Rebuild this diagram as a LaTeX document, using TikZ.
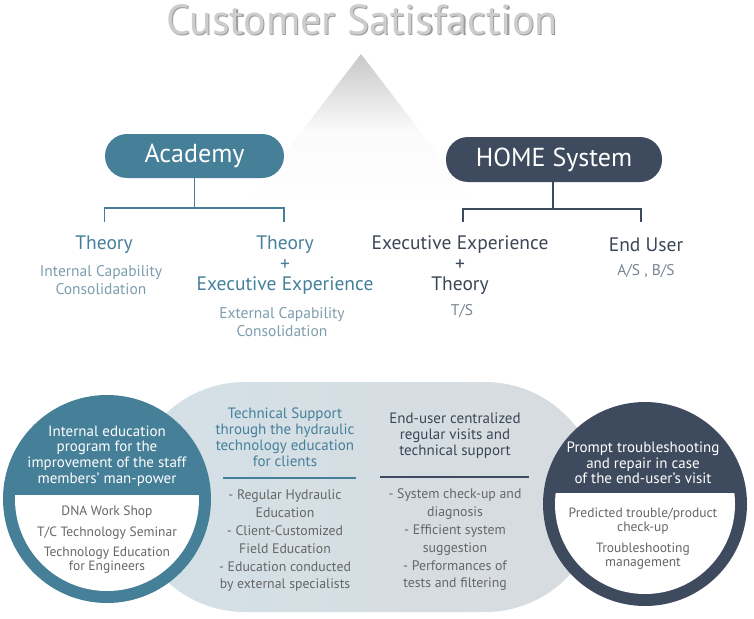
\documentclass[tikz,border=0pt]{standalone}
\usepackage{fontspec}
\setmainfont{PT Sans}
\definecolor{tealc}{HTML}{457F98}
\definecolor{darkc}{HTML}{3E4A5D}
\definecolor{tealtxt}{HTML}{45809A}
\definecolor{tealsub}{HTML}{7C9DAD}
\definecolor{darktxt}{HTML}{3B4657}
\definecolor{darksub}{HTML}{7A8393}
\definecolor{graytxt}{HTML}{666666}
\definecolor{titlefill}{HTML}{CDCDCD}
\definecolor{titleshade}{HTML}{9C9C9C}
\definecolor{blobL}{HTML}{D3E1E7}
\definecolor{blobR}{HTML}{D8DBDF}
\definecolor{tritop}{HTML}{C8C8C8}
\tikzset{
  pill/.style={rounded corners=22pt, minimum height=44pt, text=white, inner sep=0pt,
    font=\fontsize{26}{28}\selectfont},
  headtxt/.style={align=center, inner sep=0pt, font=\fontsize{19.5}{20.5}\selectfont},
  subtxt/.style={align=center, inner sep=0pt, font=\fontsize{15.5}{18}\selectfont},
  circhead/.style={align=center, inner sep=0pt, text=white, font=\fontsize{15}{15.7}\selectfont},
  circbody/.style={align=center, inner sep=0pt, text=graytxt, font=\fontsize{13.5}{14.5}\selectfont},
  midhead/.style={align=center, inner sep=0pt, font=\fontsize{15}{16}\selectfont},
  miditem/.style={align=center, inner sep=0pt, text=graytxt, font=\fontsize{13.8}{17.8}\selectfont},
  tline/.style={draw=tealc, line width=1.2pt},
  dline/.style={draw=darkc, line width=1.2pt},
}
\begin{document}
\begin{tikzpicture}[x=1pt,y=-1pt]
\useasboundingbox (0,0) rectangle (754,618);
% triangle
\shade[top color=tritop, bottom color=white, middle color=white!92!tritop] (361,54) -- (243,208) -- (479,208) -- cycle;
% title
\node[text=titleshade, font=\fontsize{42}{46}\selectfont] (titlesh) at (363.2,21.2) {Customer Satisfaction};
\node[text=titlefill, font=\fontsize{42}{46}\selectfont] (title) at (362,20) {Customer Satisfaction};
% pills
\node[pill, fill=tealc, minimum width=179pt] (acad) at (194.5,156) {Academy};
\node[pill, fill=darkc, minimum width=216pt, minimum height=45pt] (home) at (554,159.5) {HOME System};
% tree lines
\coordinate (acadmid) at (194.5,208);
\coordinate (a1) at (104.5,222);
\coordinate (a2) at (284,222);
\draw[tline] (acad.south) -- (acadmid);
\draw[tline] (a1) |- (acadmid) -| (a2);
\coordinate (homemid) at (553,209);
\coordinate (h1) at (463,222);
\coordinate (h2) at (641,222);
\draw[dline] (home.south -| homemid) -- (homemid);
\draw[dline] (h1) |- (homemid) -| (h2);
% column texts
\node[headtxt, text=tealtxt] (c1h) at (104,245) {Theory};
\node[subtxt, text=tealsub] (c1s) at (101,280) {Internal Capability\\Consolidation};
\node[headtxt, text=tealtxt] (c2h) at (285,265.5) {Theory\\+\\Executive Experience};
\node[subtxt, text=tealsub] (c2s) at (282,322) {External Capability\\Consolidation};
\node[headtxt, text=darktxt] (c3h) at (460,265.5) {Executive Experience\\+\\Theory};
\node[subtxt, text=darksub] (c3s) at (462,311) {T/S};
\node[headtxt, text=darktxt] (c4h) at (646,245) {End User};
\node[subtxt, text=darksub] (c4s) at (646,271) {A/S , B/S};
% middle blob
\shade[left color=blobL, right color=blobR, rounded corners=115pt] (130,382) rectangle (600,612);
% left circle
\fill[tealc] (107,499) circle (104);
\begin{scope}
\clip (0,495) rectangle (220,618);
\fill[white] (107,499) circle (92);
\end{scope}
\node[circhead] (lch) at (107,456) {Internal education\\program for the\\improvement of the staff\\members’ man-power};
\node[circbody] (lb1) at (107,512) {DNA Work Shop};
\node[circbody] (lb2) at (107,533) {T/C Technology Seminar};
\node[circbody] (lb3) at (107,560) {Technology Education\\for Engineers};
% right circle
\fill[darkc] (645,504) circle (102);
\begin{scope}
\clip (530,493) rectangle (754,618);
\fill[white] (645,504) circle (90);
\end{scope}
\node[circhead] (rch) at (643,463) {Prompt troubleshooting\\and repair in case\\of the end-user’s visit};
\node[circbody] (rb1) at (643,521) {Predicted trouble/product\\check-up};
\node[circbody] (rb2) at (643,556) {Troubleshooting\\management};
% middle texts
\node[midhead, text=tealtxt] (mlh) at (285,437) {Technical Support\\through the hydraulic\\technology education\\for clients};
\coordinate (ml1) at (223,478);
\coordinate (ml2) at (356,478);
\draw[tline] (ml1) -- (ml2);
\node[miditem] (mli) at (285,541) {- Regular Hydraulic\\Education\\- Client-Customized\\Field Education\\- Education conducted\\by external specialists};
\node[midhead, text=darktxt] (mrh) at (455,436) {End-user centralized\\regular visits and\\technical support};
\coordinate (mr1) at (380,477);
\coordinate (mr2) at (529,477);
\draw[dline] (mr1) -- (mr2);
\node[miditem] (mri) at (455,540) {- System check-up and\\diagnosis\\- Efficient system\\suggestion\\- Performances of\\tests and filtering};
\end{tikzpicture}
\end{document}
